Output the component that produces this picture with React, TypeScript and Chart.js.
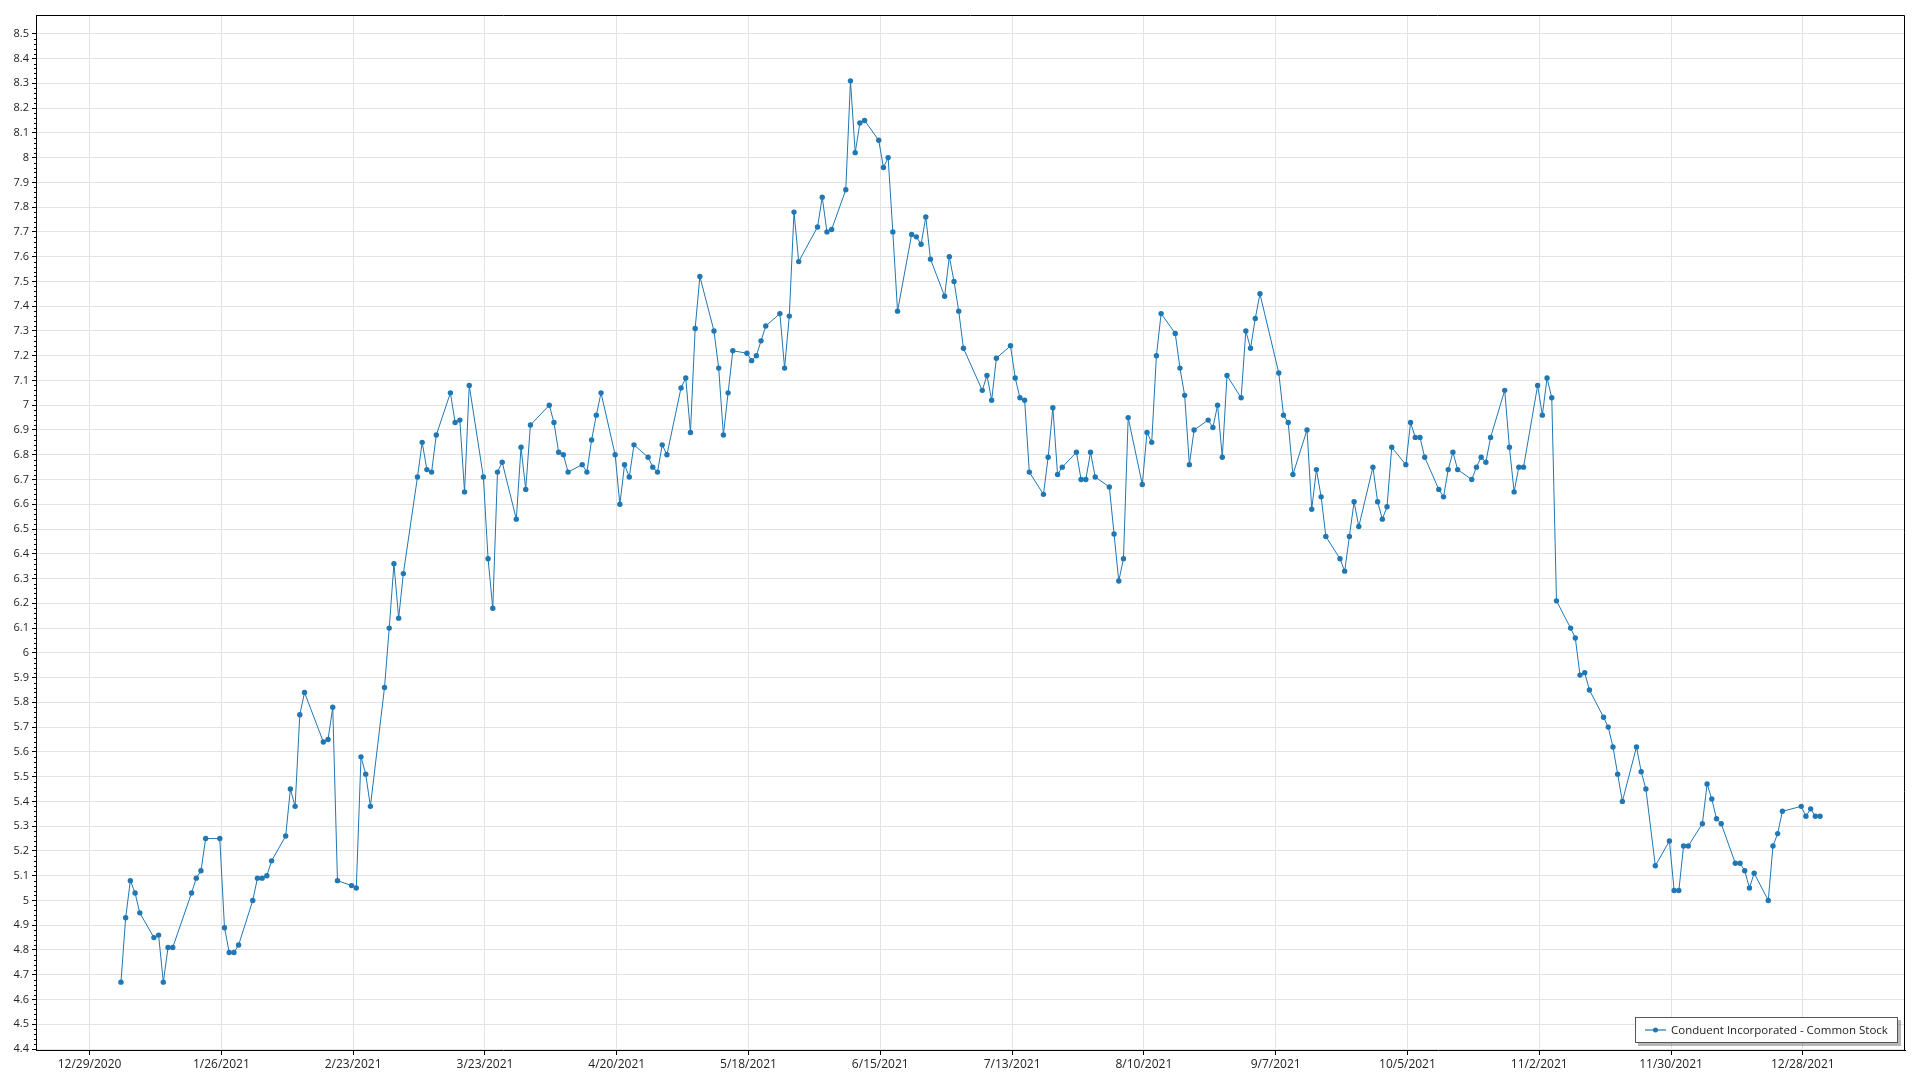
import React, { useEffect, useRef } from "react";
import { Chart, registerables } from "chart.js";

Chart.register(...registerables);

const seriesLabel = "Conduent Incorporated - Common Stock";

// Trading days (day of month) and closing prices, 2021
const janDays = [4, 5, 6, 7, 8, 11, 12, 13, 14, 15, 19, 20, 21, 22, 25, 26, 27, 28, 29];
const janClose = [4.67, 4.93, 5.08, 5.03, 4.95, 4.85, 4.86, 4.67, 4.81, 4.81, 5.03, 5.09, 5.12, 5.25, 5.25, 4.89, 4.79, 4.79, 4.82];

const febDays = [1, 2, 3, 4, 5, 8, 9, 10, 11, 12, 16, 17, 18, 19, 22, 23, 24, 25, 26];
const febClose = [5.0, 5.09, 5.09, 5.1, 5.16, 5.26, 5.45, 5.38, 5.75, 5.84, 5.64, 5.65, 5.78, 5.08, 5.06, 5.05, 5.58, 5.51, 5.38];

const marDays = [1, 2, 3, 4, 5, 8, 9, 10, 11, 12, 15, 16, 17, 18, 19, 22, 23, 24, 25, 26, 29, 30, 31];
const marClose = [5.86, 6.1, 6.36, 6.14, 6.32, 6.71, 6.85, 6.74, 6.73, 6.88, 7.05, 6.93, 6.94, 6.65, 7.08, 6.71, 6.38, 6.18, 6.73, 6.77, 6.54, 6.83, 6.66];

const aprDays = [1, 5, 6, 7, 8, 9, 12, 13, 14, 15, 16, 19, 20, 21, 22, 23, 26, 27, 28, 29, 30];
const aprClose = [6.92, 7.0, 6.93, 6.81, 6.8, 6.73, 6.76, 6.73, 6.86, 6.96, 7.05, 6.8, 6.6, 6.76, 6.71, 6.84, 6.79, 6.75, 6.73, 6.84, 6.8];

const mayDays = [3, 4, 5, 6, 7, 10, 11, 12, 13, 14, 17, 18, 19, 20, 21, 24, 25, 26, 27, 28];
const mayClose = [7.07, 7.11, 6.89, 7.31, 7.52, 7.3, 7.15, 6.88, 7.05, 7.22, 7.21, 7.18, 7.2, 7.26, 7.32, 7.37, 7.15, 7.36, 7.78, 7.58];

const junDays = [1, 2, 3, 4, 7, 8, 9, 10, 11, 14, 15, 16, 17, 18, 21, 22, 23, 24, 25, 28, 29, 30];
const junClose = [7.72, 7.84, 7.7, 7.71, 7.87, 8.31, 8.02, 8.14, 8.15, 8.07, 7.96, 8.0, 7.7, 7.38, 7.69, 7.68, 7.65, 7.76, 7.59, 7.44, 7.6, 7.5];

const julDays = [1, 2, 6, 7, 8, 9, 12, 13, 14, 15, 16, 19, 20, 21, 22, 23, 26, 27, 28, 29, 30];
const julClose = [7.38, 7.23, 7.06, 7.12, 7.02, 7.19, 7.24, 7.11, 7.03, 7.02, 6.73, 6.64, 6.79, 6.99, 6.72, 6.75, 6.81, 6.7, 6.7, 6.81, 6.71];

const augDays = [2, 3, 4, 5, 6, 9, 10, 11, 12, 13, 16, 17, 18, 19, 20, 23, 24, 25, 26, 27, 30, 31];
const augClose = [6.67, 6.48, 6.29, 6.38, 6.95, 6.68, 6.89, 6.85, 7.2, 7.37, 7.29, 7.15, 7.04, 6.76, 6.9, 6.94, 6.91, 7.0, 6.79, 7.12, 7.03, 7.3];

const sepDays = [1, 2, 3, 7, 8, 9, 10, 13, 14, 15, 16, 17, 20, 21, 22, 23, 24, 27, 28, 29, 30];
const sepClose = [7.23, 7.35, 7.45, 7.13, 6.96, 6.93, 6.72, 6.9, 6.58, 6.74, 6.63, 6.47, 6.38, 6.33, 6.47, 6.61, 6.51, 6.75, 6.61, 6.54, 6.59];

const octDays = [1, 4, 5, 6, 7, 8, 11, 12, 13, 14, 15, 18, 19, 20, 21, 22, 25, 26, 27, 28, 29];
const octClose = [6.83, 6.76, 6.93, 6.87, 6.87, 6.79, 6.66, 6.63, 6.74, 6.81, 6.74, 6.7, 6.75, 6.79, 6.77, 6.87, 7.06, 6.83, 6.65, 6.75, 6.75];

const novDays = [1, 2, 3, 4, 5, 8, 9, 10, 11, 12, 15, 16, 17, 18, 19, 22, 23, 24, 26, 29, 30];
const novClose = [7.08, 6.96, 7.11, 7.03, 6.21, 6.1, 6.06, 5.91, 5.92, 5.85, 5.74, 5.7, 5.62, 5.51, 5.4, 5.62, 5.52, 5.45, 5.14, 5.24, 5.04];

const decDays = [1, 2, 3, 6, 7, 8, 9, 10, 13, 14, 15, 16, 17, 20, 21, 22, 23, 27, 28, 29, 30, 31];
const decClose = [5.04, 5.22, 5.22, 5.31, 5.47, 5.41, 5.33, 5.31, 5.15, 5.15, 5.12, 5.05, 5.11, 5.0, 5.22, 5.27, 5.36, 5.38, 5.34, 5.37, 5.34, 5.34];

const xTickLabels = [
  "12/29/2020", "1/26/2021", "2/23/2021", "3/23/2021", "4/20/2021", "5/18/2021", "6/15/2021",
  "7/13/2021", "8/10/2021", "9/7/2021", "10/5/2021", "11/2/2021", "11/30/2021", "12/28/2021",
];

const monthDays = [janDays, febDays, marDays, aprDays, mayDays, junDays, julDays, augDays, sepDays, octDays, novDays, decDays];
const monthClose = [janClose, febClose, marClose, aprClose, mayClose, junClose, julClose, augClose, sepClose, octClose, novClose, decClose];

const ORIGIN = Date.UTC(2020, 11, 29);
const DAY = 86400000;
const CLOSE_TIME = 16 / 24;
const dayIndex = (y: number, m: number, d: number) => (Date.UTC(y, m, d) - ORIGIN) / DAY;
const parseLabel = (s: string) => {
  const [m, d, y] = s.split("/").map(Number);
  return dayIndex(y, m - 1, d);
};

const FONT = "'Segoe UI', 'Open Sans', 'Noto Sans', sans-serif";

export default function App() {
  const ref = useRef<HTMLCanvasElement | null>(null);

  useEffect(() => {
    document.body.style.margin = "0";
    const canvas = ref.current;
    if (!canvas) return;

    const points: { x: number; y: number }[] = [];
    monthDays.forEach((days, mi) => {
      days.forEach((d, i) => {
        points.push({ x: dayIndex(2021, mi, d) + CLOSE_TIME, y: monthClose[mi][i] });
      });
    });
    const xs = points.map((p) => p.x);
    const xMinData = Math.min(...xs);
    const xMaxData = Math.max(...xs);
    const xPad = (xMaxData - xMinData) * 0.05;
    const xTickValues = xTickLabels.map(parseLabel);

    const yTickValues: number[] = [];
    for (let i = 0; i <= 41; i++) yTickValues.push(Math.round((4.4 + i * 0.1) * 10) / 10);

    const framePlugin = {
      id: "frameAndLegend",
      afterDraw(chart: any) {
        const { ctx, chartArea } = chart;
        const { left, right, top, bottom } = chartArea;
        ctx.save();
        // minor ticks on y axis
        const yScale = chart.scales.y;
        ctx.strokeStyle = "#000";
        ctx.lineWidth = 1;
        ctx.beginPath();
        for (let i = 0; i <= 205; i++) {
          const v = 4.4 + i * 0.02;
          if (v > yScale.max) break;
          if (i % 5 === 0) continue;
          const py = Math.round(yScale.getPixelForValue(v)) + 0.5;
          ctx.moveTo(left - 2, py);
          ctx.lineTo(left, py);
        }
        ctx.stroke();
        // frame top/right
        ctx.beginPath();
        ctx.moveTo(Math.round(left) + 0.5, Math.round(top) + 0.5);
        ctx.lineTo(Math.round(right) - 0.5, Math.round(top) + 0.5);
        ctx.lineTo(Math.round(right) - 0.5, Math.round(bottom));
        ctx.stroke();

        // legend
        ctx.font = `11.5px ${FONT}`;
        const tw = ctx.measureText(seriesLabel).width;
        const boxW = Math.round(10 + 21 + 5 + tw + 10);
        const boxH = 26;
        const bx = Math.round(right) - 7 - boxW;
        const by = Math.round(bottom) - 7 - boxH;
        ctx.fillStyle = "rgba(0,0,0,0.28)";
        ctx.fillRect(bx + 3, by + 3, boxW, boxH);
        ctx.fillStyle = "#fff";
        ctx.fillRect(bx, by, boxW, boxH);
        ctx.strokeStyle = "#555";
        ctx.lineWidth = 1;
        ctx.strokeRect(bx + 0.5, by + 0.5, boxW - 1, boxH - 1);
        const cy = by + boxH / 2;
        ctx.strokeStyle = "rgba(31,119,180,0.6)";
        ctx.lineWidth = 2;
        ctx.beginPath();
        ctx.moveTo(bx + 10, cy);
        ctx.lineTo(bx + 31, cy);
        ctx.stroke();
        ctx.fillStyle = "#1f77b4";
        ctx.beginPath();
        ctx.arc(bx + 20.5, cy, 2.5, 0, Math.PI * 2);
        ctx.fill();
        ctx.fillStyle = "#222";
        ctx.textBaseline = "middle";
        ctx.textAlign = "left";
        ctx.fillText(seriesLabel, bx + 36, cy + 0.5);
        ctx.restore();
      },
    };

    const chart = new Chart(canvas, {
      type: "line",
      data: {
        datasets: [
          {
            label: seriesLabel,
            data: points,
            borderColor: "#1f77b4",
            backgroundColor: "#1f77b4",
            borderWidth: 1,
            pointRadius: 2.7,
            pointBorderWidth: 0,
            pointBackgroundColor: "#1f77b4",
            tension: 0,
            fill: false,
          },
        ],
      },
      options: {
        animation: false,
        responsive: false,
        devicePixelRatio: 1,
        events: [],
        layout: { padding: { top: 15, right: 15, left: 0, bottom: 0 } },
        plugins: { legend: { display: false }, tooltip: { enabled: false }, title: { display: false } },
        scales: {
          x: {
            type: "linear",
            min: xMinData - xPad,
            max: xMaxData + xPad,
            afterBuildTicks: (scale: any) => {
              scale.ticks = xTickValues.map((v) => ({ value: v }));
            },
            afterFit: (scale: any) => {
              scale.height = 30;
            },
            grid: { color: "#e3e3e3", lineWidth: 1, tickColor: "#000", tickLength: 5, drawTicks: true },
            border: { display: true, color: "#000", width: 1 },
            ticks: {
              autoSkip: false,
              maxRotation: 0,
              minRotation: 0,
              padding: 2,
              color: "#222",
              font: { family: FONT, size: 12 },
              callback: (_v: any, i: number) => xTickLabels[i],
            },
          },
          y: {
            type: "linear",
            min: 4.396,
            max: 8.576,
            afterBuildTicks: (scale: any) => {
              scale.ticks = yTickValues.map((v) => ({ value: v }));
            },
            afterFit: (scale: any) => {
              scale.width = 36;
            },
            grid: { color: "#e3e3e3", lineWidth: 1, tickColor: "#000", tickLength: 4, drawTicks: true },
            border: { display: true, color: "#000", width: 1 },
            ticks: {
              autoSkip: false,
              padding: 3,
              color: "#222",
              font: { family: FONT, size: 11 },
              callback: (v: any) => String(Math.round(Number(v) * 10) / 10),
            },
          },
        },
      },
      plugins: [framePlugin],
    });

    return () => chart.destroy();
  }, []);

  return (
    <div style={{ width: 1920, height: 1080, position: "relative", background: "#fff" }}>
      <canvas ref={ref} width={1920} height={1080} style={{ display: "block" }} />
    </div>
  );
}
